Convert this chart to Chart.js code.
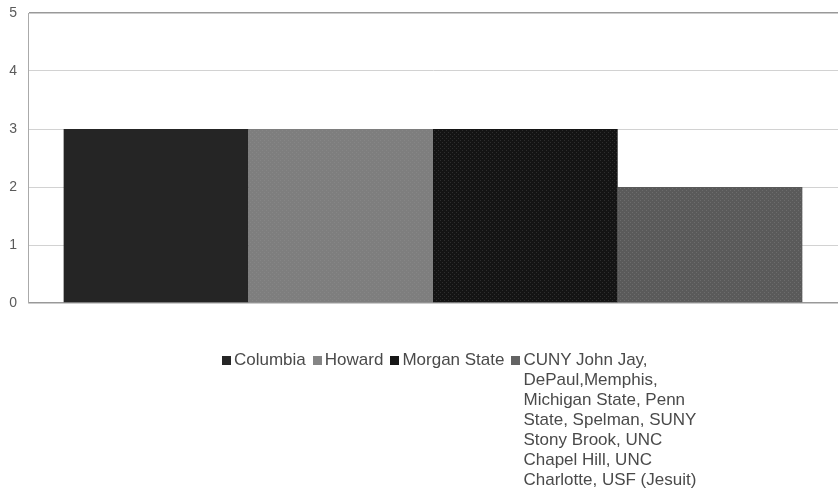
<!DOCTYPE html>
<html>
<head>
<meta charset="utf-8">
<script src="https://cdn.jsdelivr.net/npm/chart.js@4/dist/chart.umd.min.js"></script>
<style>
  html, body { margin: 0; padding: 0; background: #fff; }
  #wrap { position: relative; width: 839px; height: 493px; }
  #legend {
    position: absolute; left: 222px; top: 350px;
    display: flex; align-items: flex-start;
    font-family: "Liberation Sans", Arial, sans-serif; font-size: 17px;
    line-height: 20px; color: #4a4a4a;
  }
  #legend .item { display: flex; align-items: flex-start; margin-right: 7px; }
  #legend .box { width: 9px; height: 9px; margin-top: 6px; margin-right: 3px; flex: none; }
</style>
</head>
<body>
<div id="wrap">
  <canvas id="grafico"></canvas>
  <div id="legend"></div>
</div>
<script>
(function() {

	var categorias = [''];
	var series = ['Columbia', 'Howard', 'Morgan State',
		'CUNY John Jay, DePaul,Memphis, Michigan State, Penn State, Spelman, SUNY Stony Brook, UNC Chapel Hill, UNC Charlotte, USF (Jesuit)'];
	// legend text as shown, broken in lines
	var rotulos = [
		['Columbia'],
		['Howard'],
		['Morgan State'],
		['CUNY John Jay,', 'DePaul,Memphis,', 'Michigan State, Penn', 'State, Spelman, SUNY', 'Stony Brook, UNC', 'Chapel Hill, UNC', 'Charlotte, USF (Jesuit)']
	];
	var valores = [3, 3, 3, 2];
	var ticksY = [0, 1, 2, 3, 4, 5];

	var coresLegenda = ['#262626', '#858585', '#171717', '#636363'];

	function padrao(base, ponto) {
		var c = document.createElement('canvas');
		c.width = 4; c.height = 4;
		var g = c.getContext('2d');
		g.fillStyle = base;
		g.fillRect(0, 0, 4, 4);
		g.fillStyle = ponto;
		g.fillRect(0, 0, 1, 1);
		g.fillRect(2, 2, 1, 1);
		return g.createPattern(c, 'repeat');
	}

	var fundos = [
		'#252525',
		padrao('#7e7e7e', '#868686'),
		padrao('#141414', '#2e2e2e'),
		padrao('#5a5a5a', '#6c6c6c')
	];

	var ctx = document.getElementById('grafico');
	ctx.width = 839; ctx.height = 493;

	var datasets = series.map(function(nome, i) {
		return {
			label: nome,
			data: [valores[i]],
			backgroundColor: fundos[i],
			borderWidth: 0,
			categoryPercentage: 0.912,
			barPercentage: 1
		};
	});

	var grafico = new Chart(ctx, {
		type: 'bar',
		data: { labels: categorias, datasets: datasets },
		options: {
			responsive: false,
			animation: false,
			devicePixelRatio: 1,
			layout: { padding: { left: 0, top: 13, right: 1, bottom: 190 } },
			plugins: { legend: { display: false }, tooltip: { enabled: false } },
			scales: {
				x: { display: false },
				y: {
					min: 0, max: 5,
					afterBuildTicks: function(scale) {
						scale.ticks = ticksY.map(function(v) { return { value: v }; });
					},
					afterFit: function(scale) {
						scale.width = 28;
						scale.paddingTop = 0;
						scale.paddingBottom = 0;
					},
					grid: {
						drawTicks: false,
						color: function(c) {
							return (c.tick.value === 0 || c.tick.value === 5) ? '#999999' : '#d2d2d2';
						},
						lineWidth: function(c) {
							return (c.tick.value === 0 || c.tick.value === 5) ? 1.5 : 1;
						}
					},
					border: { display: true, color: '#aaaaaa', width: 1 },
					ticks: {
						padding: 11,
						color: '#5a5a5a',
						font: { family: 'Liberation Sans', size: 14 }
					}
				}
			}
		}
	});

	// legenda em html
	var leg = document.getElementById('legend');
	rotulos.forEach(function(linhas, i) {
		var item = document.createElement('div');
		item.className = 'item';
		var box = document.createElement('span');
		box.className = 'box';
		box.style.background = coresLegenda[i];
		var txt = document.createElement('span');
		txt.innerHTML = linhas.join('<br>');
		item.appendChild(box);
		item.appendChild(txt);
		leg.appendChild(item);
	});
})();
</script>
</body>
</html>
